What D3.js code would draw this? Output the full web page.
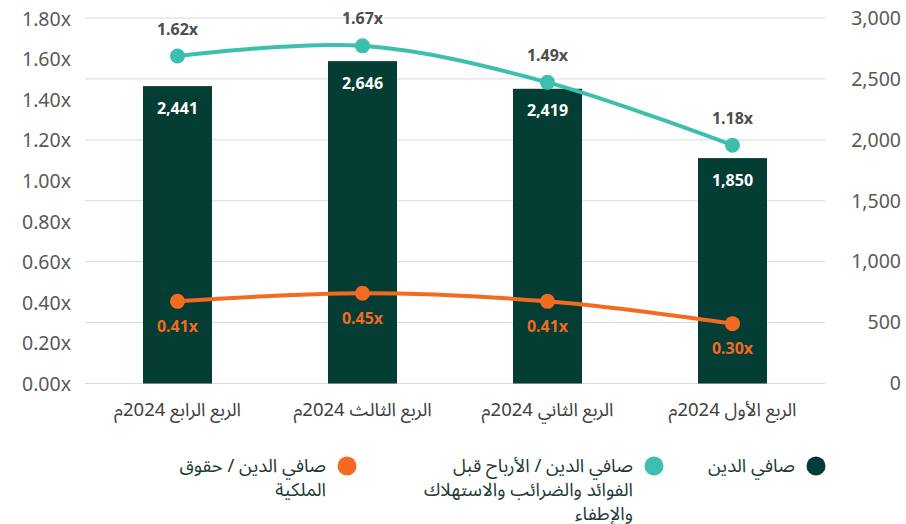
<!DOCTYPE html>
<html lang="ar">
<head>
<meta charset="utf-8">
<script src="https://cdn.jsdelivr.net/npm/d3@7"></script>
<style>
  body { margin: 0; background: #fff; }
  text { font-family: "Noto Sans", "Noto Sans Arabic", "DejaVu Sans", sans-serif; }
</style>
</head>
<body>
<div id="chart"></div>
<script>
// categories left to right (the chart reads right-to-left)
const categories = ['الربع الرابع 2024م', 'الربع الثالث 2024م', 'الربع الثاني 2024م', 'الربع الأول 2024م'];
const netDebt = [2441, 2646, 2419, 1850];
const debtToEbitda = [1.62, 1.67, 1.49, 1.18];
const debtToEquity = [0.41, 0.45, 0.41, 0.30];
const leftTicks = [0, 0.2, 0.4, 0.6, 0.8, 1.0, 1.2, 1.4, 1.6, 1.8];
const rightTicks = [0, 500, 1000, 1500, 2000, 2500, 3000];
const legendItems = [
  { lines: ['صافي الدين'], color: '#033d33' },
  { lines: ['صافي الدين / الأرباح قبل', 'الفوائد والضرائب والاستهلاك', 'والإطفاء'], color: '#3dbfad' },
  { lines: ['صافي الدين / حقوق', 'الملكية'], color: '#f26b21' }
];

const width = 906;
const height = 524;
const plotLeft = 85, plotRight = 825, plotTop = 18, plotBottom = 383.5;

const svg = d3.select('#chart').append('svg')
  .attr('width', width)
  .attr('height', height);

const x = d3.scaleBand().domain(categories).range([plotLeft, plotRight]).paddingInner(0.627).paddingOuter(0.3135);
// the left axis sits a touch lower than the right one
const yL = d3.scaleLinear().domain([0, 1.8]).range([384.5, 19.5]);
const yR = d3.scaleLinear().domain([0, 3000]).range([plotBottom, plotTop]);
const cx = d => x(d) + x.bandwidth() / 2;

// gridlines follow the right axis
svg.append('g').selectAll('line')
  .data(rightTicks)
  .enter().append('line')
  .attr('x1', plotLeft).attr('x2', plotRight)
  .attr('y1', d => yR(d)).attr('y2', d => yR(d))
  .attr('stroke', '#d9d9d9').attr('stroke-width', 1);

// left axis labels
svg.append('g').selectAll('text')
  .data(leftTicks)
  .enter().append('text')
  .attr('x', 71).attr('y', d => yL(d) - 0.5)
  .attr('dy', '0.35em')
  .attr('text-anchor', 'end')
  .attr('font-size', '19.5px')
  .attr('fill', '#595959')
  .text(d => d.toFixed(2) + 'x');

// right axis labels
svg.append('g').selectAll('text')
  .data(rightTicks)
  .enter().append('text')
  .attr('x', 901).attr('y', d => yR(d))
  .attr('dy', '0.35em')
  .attr('text-anchor', 'end')
  .attr('font-size', '19.5px')
  .attr('fill', '#595959')
  .text(d => d3.format(',')(d));

// bars
svg.append('g').selectAll('rect')
  .data(categories)
  .enter().append('rect')
  .attr('x', d => x(d))
  .attr('width', x.bandwidth())
  .attr('y', (d, i) => yR(netDebt[i]))
  .attr('height', (d, i) => plotBottom - yR(netDebt[i]))
  .attr('fill', '#033d33');

svg.append('g').selectAll('text')
  .data(categories)
  .enter().append('text')
  .attr('x', cx)
  .attr('y', (d, i) => yR(netDebt[i]) + 22)
  .attr('dy', '0.35em')
  .attr('text-anchor', 'middle')
  .attr('font-size', '16px')
  .attr('font-weight', 'bold')
  .attr('fill', '#fff')
  .text((d, i) => d3.format(',')(netDebt[i]));

// category labels
svg.append('g').selectAll('text')
  .data(categories)
  .enter().append('text')
  .attr('x', cx)
  .attr('y', 410)
  .attr('dy', '0.35em')
  .attr('text-anchor', 'middle')
  .attr('font-size', '18.5px')
  .attr('fill', '#404040')
  .text(d => d);

// lines
function drawLine(values, color, labelColor, labelOffset) {
  const pts = categories.map((c, i) => [cx(c), yL(values[i])]);
  const line = d3.line().curve(d3.curveCardinal.tension(0));
  svg.append('path')
    .attr('d', line(pts))
    .attr('fill', 'none')
    .attr('stroke', color)
    .attr('stroke-width', 4);
  svg.append('g').selectAll('circle')
    .data(pts)
    .enter().append('circle')
    .attr('cx', d => d[0]).attr('cy', d => d[1])
    .attr('r', 7.5)
    .attr('fill', color);
  svg.append('g').selectAll('text')
    .data(pts)
    .enter().append('text')
    .attr('x', d => d[0])
    .attr('y', d => d[1] + labelOffset)
    .attr('dy', '0.35em')
    .attr('text-anchor', 'middle')
    .attr('font-size', '16px')
    .attr('font-weight', 'bold')
    .attr('fill', labelColor)
    .text((d, i) => values[i].toFixed(2) + 'x');
}
drawLine(debtToEquity, '#f26b21', '#f26b21', 25);
drawLine(debtToEbitda, '#3dbfad', '#4d4d4d', -27);

// legend
const legendX = [816, 654, 347];
const legend = svg.append('g').selectAll('g')
  .data(legendItems)
  .enter().append('g')
  .attr('transform', (d, i) => `translate(${legendX[i]}, 466)`);
legend.append('circle')
  .attr('r', 9.5)
  .attr('fill', d => d.color);
legend.append('text')
  .attr('x', -21)
  .attr('text-anchor', 'start')
  .attr('direction', 'rtl')
  .attr('font-size', '18.5px')
  .attr('fill', '#1e3a36')
  .selectAll('tspan')
  .data(d => d.lines)
  .enter().append('tspan')
  .attr('x', -21)
  .attr('y', (d, i) => i * 24)
  .attr('dy', '0.35em')
  .text(d => d);
</script>
</body>
</html>
